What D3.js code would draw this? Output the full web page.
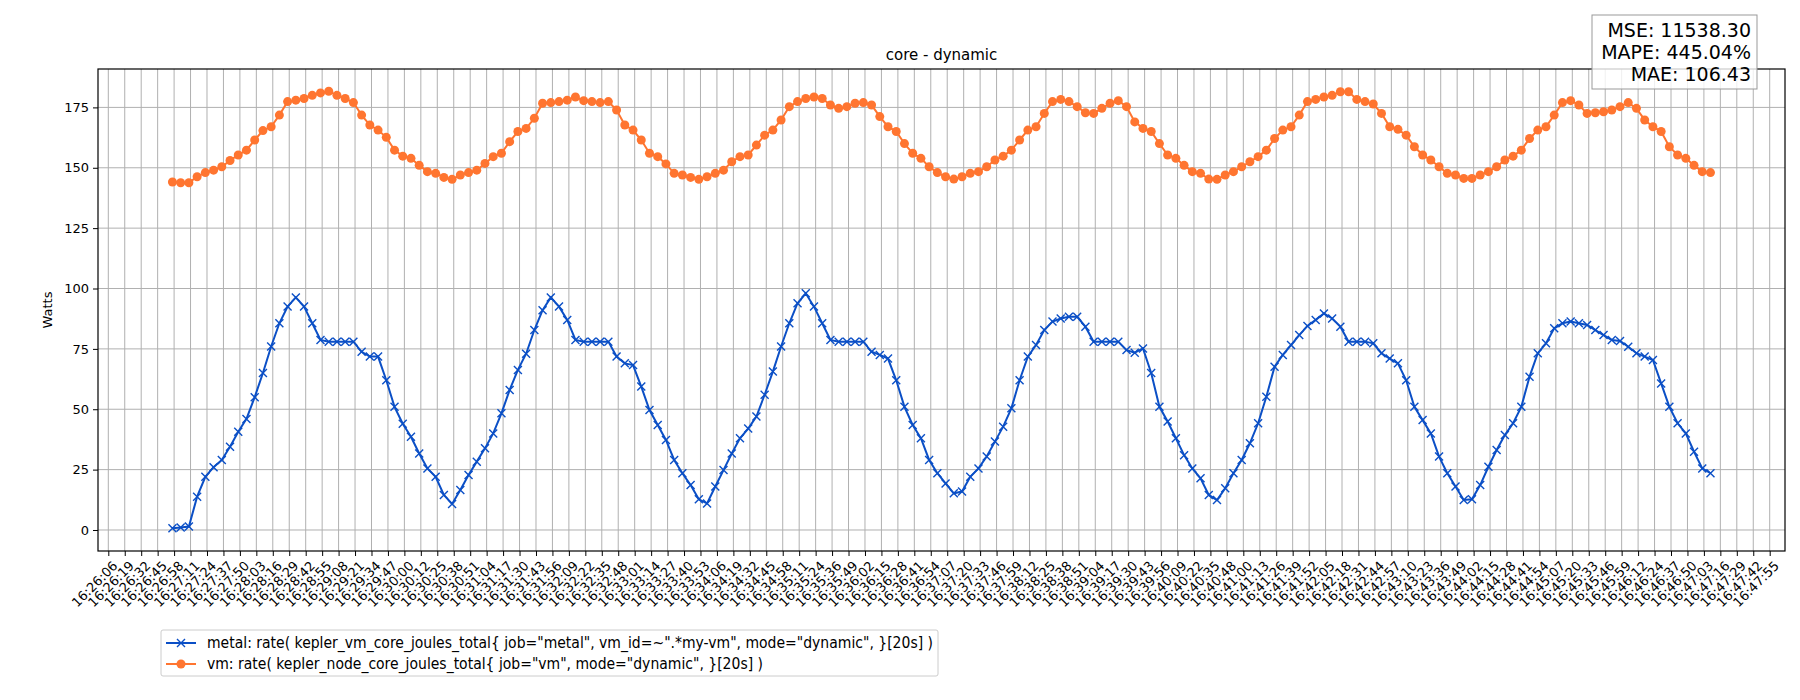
<!DOCTYPE html>
<html>
<head>
<meta charset="utf-8">
<script src="https://cdn.jsdelivr.net/npm/d3@7"></script>
<style>
  body { margin: 0; background: #fff; }
  text { font-family: "DejaVu Sans", sans-serif; fill: #000; }
</style>
</head>
<body>
<div id="chart-area"></div>
<script>
// tick labels (one per grid line)
const tickLabels = [
  '16:26:06','16:26:19','16:26:32','16:26:45','16:26:58','16:27:11','16:27:24','16:27:37','16:27:50','16:28:03',
  '16:28:16','16:28:29','16:28:42','16:28:55','16:29:08','16:29:21','16:29:34','16:29:47','16:30:00','16:30:12',
  '16:30:25','16:30:38','16:30:51','16:31:04','16:31:17','16:31:30','16:31:43','16:31:56','16:32:09','16:32:22',
  '16:32:35','16:32:48','16:33:01','16:33:14','16:33:27','16:33:40','16:33:53','16:34:06','16:34:19','16:34:32',
  '16:34:45','16:34:58','16:35:11','16:35:24','16:35:36','16:35:49','16:36:02','16:36:15','16:36:28','16:36:41',
  '16:36:54','16:37:07','16:37:20','16:37:33','16:37:46','16:37:59','16:38:12','16:38:25','16:38:38','16:38:51',
  '16:39:04','16:39:17','16:39:30','16:39:43','16:39:56','16:40:09','16:40:22','16:40:35','16:40:48','16:41:00',
  '16:41:13','16:41:26','16:41:39','16:41:52','16:42:05','16:42:18','16:42:31','16:42:44','16:42:57','16:43:10',
  '16:43:23','16:43:36','16:43:49','16:44:02','16:44:15','16:44:28','16:44:41','16:44:54','16:45:07','16:45:20',
  '16:45:33','16:45:46','16:45:59','16:46:12','16:46:24','16:46:37','16:46:50','16:47:03','16:47:16','16:47:29',
  '16:47:42','16:47:55'
];
const yTicks = [0, 25, 50, 75, 100, 125, 150, 175];

// samples: position on the tick axis, first sample and spacing (in tick units)
const sampleStart = 3.9;
const sampleStep = 0.5;

const metal = [
  0.7,1,1.4,13.8,22,26,29,34.5,40.7,46,55,65,76,85.6,92.5,96.3,92.5,85.6,78.7,78,
  78,78,78,73.8,71.8,71.8,62,51,44,38.6,31.7,25.5,22,14.5,10.8,16.6,22.8,28.3,33.8,40,
  48.3,58,66.3,73,82.8,91,96.3,92.5,87,78.7,78,78,78,78,71.8,69,68.3,59.4,49.7,43.5,
  37.3,29,23.5,18.6,12.7,11,18,24.8,31.7,38,42,47,56,65.6,76,85.6,93.9,98,92.5,85.6,
  78.7,78,78,78,78,73.8,72.5,71,62,51,43.5,38,29,23.5,19.3,15.2,15.9,22,25.5,30.4,
  36.6,42.8,50.4,62,71.8,76.6,82.8,86.3,87.6,88.3,88.3,84.2,78,78,78,78,74.5,73.4,75.2,65,
  51,44.9,38,31,25.5,21.4,14.5,12.4,17.3,23.5,29,35.9,44.2,55.2,67.6,72.5,76.6,80.7,84.5,87,
  89.7,87.6,84.2,78,78,78,77.3,73.2,71,69,62,51,45.5,40,30.4,23.5,18,12.4,12.7,18.6,
  26.2,33.1,39.3,44.2,51,63.5,73.2,77.3,83.5,85.6,86.3,85.6,84.9,82.8,80.7,78.7,78.3,75.9,73.2,71.8,
  70.4,60.7,51,44.2,40,32.4,25.5,23.5
];

const vm = [
  144.1,143.8,143.8,146.3,148,149,150.4,153,155.3,157.3,161.5,165.4,167,171.8,177.4,178,178.7,180,181,181.7,
  180,178.7,177,171.8,167.7,165.6,162.6,157.3,154.8,153.9,151,148.4,147.7,146,145.2,147,148,149,151.8,154.6,
  156,160.8,165,166.3,170.5,176.7,177,177.4,178,179.3,177.8,177.4,177,177.4,173.9,167.7,165.6,161.5,156,154.6,
  151.6,147.7,147,146,145.2,146.3,147.7,149,152.5,154.6,155.3,159.4,163.5,165.6,169.8,175.3,177.4,178.7,179.3,178.7,
  176,174.6,175.3,176.7,177,176,171.2,167,165,160,156,153.9,150.4,148,146.3,145.3,146.3,147.7,148.4,150.4,
  153.2,154.8,157.3,161.5,165.6,167,172.5,177.4,178.3,177.4,175.3,172.8,172.5,174.6,176.7,177.8,175.3,169,166.3,165,
  160,155.3,153.9,151,148.4,147.7,145.3,145.2,147,148.4,150.4,152.5,154.6,157.3,162.1,165.6,167,171.8,177.4,178.3,
  179.3,180,181.5,181.5,178.3,177.4,176.4,172.5,167,165.9,163.5,158.7,155.3,153.2,150.4,147.7,147,145.6,145.6,147,
  148.4,150.4,153.2,154.8,157.3,162.1,165.6,167,171.8,177,177.8,176,172.5,172.8,173.2,173.9,175.3,177,174.6,169.8,
  167,165,158.7,155.3,153.9,151,148.4,148
];

const statLines = ['MSE: 11538.30', 'MAPE: 445.04%', 'MAE: 106.43'];
const legendLabels = [
  'metal: rate( kepler_vm_core_joules_total{ job="metal", vm_id=~".*my-vm", mode="dynamic", }[20s] )',
  'vm: rate( kepler_node_core_joules_total{ job="vm", mode="dynamic", }[20s] )'
];

const W = 1800, H = 700;
const margin = { left: 98, right: 15, top: 69, bottom: 149 };
const width = W - margin.left - margin.right;
const height = H - margin.top - margin.bottom;
const BLUE = '#0b4fc6', ORANGE = '#ff7530';

const svg = d3.select('#chart-area').append('svg')
  .attr('width', W).attr('height', H);
const g = svg.append('g')
  .attr('transform', `translate(${margin.left}, ${margin.top})`);

const scaleX = d3.scaleLinear().domain([-0.626, 101.93]).range([0, width]);
const scaleY = d3.scaleLinear().domain([-8.7, 190.9]).range([height, 0]);

// grid
g.append('g').selectAll('line').data(tickLabels).enter().append('line')
  .attr('x1', (d, i) => scaleX(i)).attr('x2', (d, i) => scaleX(i))
  .attr('y1', 0).attr('y2', height)
  .attr('stroke', '#b0b0b0').attr('stroke-width', 1);
g.append('g').selectAll('line').data(yTicks).enter().append('line')
  .attr('x1', 0).attr('x2', width)
  .attr('y1', d => scaleY(d)).attr('y2', d => scaleY(d))
  .attr('stroke', '#b0b0b0').attr('stroke-width', 1);

// X axis
const xAxis = d3.axisBottom(scaleX)
  .tickValues(d3.range(tickLabels.length))
  .tickFormat(i => tickLabels[i])
  .tickSizeOuter(0).tickSize(5).tickPadding(3);
const xg = g.append('g').attr('transform', `translate(0, ${height})`).call(xAxis);
xg.select('.domain').remove();
xg.selectAll('text')
  .style('font-size', '13px').style('font-family', 'DejaVu Sans')
  .attr('text-anchor', 'end')
  .attr('dx', 0).attr('dy', 0)
  .attr('transform', 'translate(4, 10) rotate(-45)');

// Y axis
const yAxis = d3.axisLeft(scaleY).tickValues(yTicks).tickSize(5).tickPadding(4).tickSizeOuter(0);
const yg = g.append('g').call(yAxis);
yg.select('.domain').remove();
yg.selectAll('text').style('font-size', '13px').style('font-family', 'DejaVu Sans');

g.append('rect').attr('width', width).attr('height', height)
  .attr('fill', 'none').attr('stroke', '#000').attr('stroke-width', 1.2);

const xOf = (d, i) => scaleX(sampleStart + i * sampleStep);
const line = d3.line().x(xOf).y(d => scaleY(d));

// metal
g.append('path').datum(metal).attr('d', line)
  .attr('fill', 'none').attr('stroke', BLUE).attr('stroke-width', 2);
const xm = 4;
g.append('g').selectAll('path').data(metal).enter().append('path')
  .attr('d', (d, i) => {
    const cx = xOf(d, i), cy = scaleY(d);
    return `M${cx - xm},${cy - xm}L${cx + xm},${cy + xm}M${cx - xm},${cy + xm}L${cx + xm},${cy - xm}`;
  })
  .attr('stroke', BLUE).attr('stroke-width', 1.4);

// vm
g.append('path').datum(vm).attr('d', line)
  .attr('fill', 'none').attr('stroke', ORANGE).attr('stroke-width', 2);
g.append('g').selectAll('circle').data(vm).enter().append('circle')
  .attr('cx', xOf).attr('cy', d => scaleY(d)).attr('r', 4.5)
  .attr('fill', ORANGE);

// title and labels
svg.append('text').attr('x', margin.left + width / 2).attr('y', 60)
  .attr('text-anchor', 'middle').style('font-size', '15px').text('core - dynamic');
svg.append('text')
  .attr('transform', `translate(52, ${margin.top + height / 2}) rotate(-90)`)
  .attr('text-anchor', 'middle').style('font-size', '13px').text('Watts');

// stats box
svg.append('rect').attr('x', 1592).attr('y', 15).attr('width', 165).attr('height', 74)
  .attr('fill', 'rgba(255,255,255,0.8)').attr('stroke', '#999').attr('stroke-width', 1);
svg.selectAll('.stat').data(statLines).enter().append('text')
  .attr('class', 'stat')
  .attr('x', 1751).attr('y', (d, i) => 37 + i * 22)
  .attr('text-anchor', 'end').style('font-size', '19px').text(d => d);

// legend
const lg = svg.append('g').attr('transform', 'translate(161, 630)');
lg.append('rect').attr('width', 777).attr('height', 46).attr('rx', 2)
  .attr('fill', '#fff').attr('stroke', '#ccc');
const colors = [BLUE, ORANGE];
legendLabels.forEach((label, i) => {
  const y = 13 + i * 21;
  lg.append('line').attr('x1', 5).attr('x2', 35).attr('y1', y).attr('y2', y)
    .attr('stroke', colors[i]).attr('stroke-width', 2);
  if (i === 0) {
    lg.append('path').attr('d', `M16,${y - 4}L24,${y + 4}M16,${y + 4}L24,${y - 4}`)
      .attr('stroke', BLUE).attr('stroke-width', 1.4);
  } else {
    lg.append('circle').attr('cx', 20).attr('cy', y).attr('r', 4.5).attr('fill', ORANGE);
  }
  lg.append('text').attr('x', 46).attr('y', y + 5)
    .style('font-size', '15px')
    .attr('textLength', i === 0 ? 726 : 556).attr('lengthAdjust', 'spacingAndGlyphs')
    .text(label);
});
</script>
</body>
</html>
